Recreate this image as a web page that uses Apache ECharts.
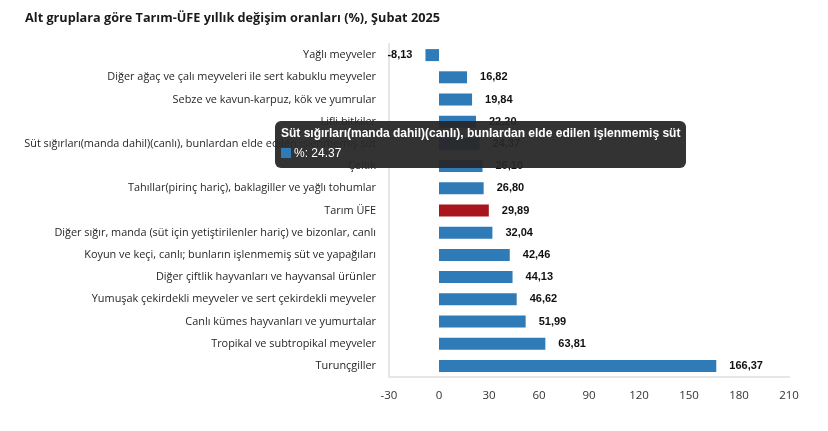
<!DOCTYPE html>
<html>
<head>
<meta charset="utf-8">
<script src="https://cdn.jsdelivr.net/npm/echarts@6/dist/echarts.min.js"></script>
<style>
  html, body { margin: 0; padding: 0; background: #fff; }
  #chart { width: 828px; height: 431px; }
</style>
</head>
<body>
<div id="chart"></div>
<script>
// categories top to bottom as they appear in the picture
const categories = [
  'Yağlı meyveler',
  'Diğer ağaç ve çalı meyveleri ile sert kabuklu meyveler',
  'Sebze ve kavun-karpuz, kök ve yumrular',
  'Lifli bitkiler',
  'Süt sığırları(manda dahil)(canlı), bunlardan elde edilen işlenmemiş süt',
  'Çeltik',
  'Tahıllar(pirinç hariç), baklagiller ve yağlı tohumlar',
  'Tarım ÜFE',
  'Diğer sığır, manda (süt için yetiştirilenler hariç) ve bizonlar, canlı',
  'Koyun ve keçi, canlı; bunların işlenmemiş süt ve yapağıları',
  'Diğer çiftlik hayvanları ve hayvansal ürünler',
  'Yumuşak çekirdekli meyveler ve sert çekirdekli meyveler',
  'Canlı kümes hayvanları ve yumurtalar',
  'Tropikal ve subtropikal meyveler',
  'Turunçgiller',
];
const values = [-8.13, 16.82, 19.84, 22.20, 24.37, 26.10, 26.80, 29.89, 32.04, 42.46, 44.13, 46.62, 51.99, 63.81, 166.37];
const highlight = 'Tarım ÜFE';
const tooltipIndex = 4;

const BLUE = '#2f7bb8';
const RED = '#a8151c';

const fmt = (v) => v.toFixed(2).replace('.', ',');

const chart = echarts.init(document.getElementById('chart'));

const option = {
  animation: false,
  title: {
    text: 'Alt gruplara göre Tarım-ÜFE yıllık değişim oranları (%), Şubat 2025',
    left: 20,
    top: 7,
    textStyle: {
      fontFamily: 'Open Sans',
      fontSize: 12.7,
      fontWeight: 'bold',
      color: '#1a1a1a',
    },
  },
  tooltip: {
    trigger: 'item',
    position: [275, 121],
    backgroundColor: 'rgba(40,40,40,0.95)',
    borderWidth: 0,
    padding: [3, 6, 4, 6],
    extraCssText: 'border-radius:6px;box-shadow:none;',
    textStyle: { color: '#fff', fontFamily: 'Liberation Sans', fontSize: 12 },
    formatter: (p) =>
      '<div style="font-weight:bold;line-height:18px">' + p.name + '</div>' +
      '<div style="line-height:22px"><span style="display:inline-block;width:10px;height:10px;background:' +
      BLUE + ';margin-right:3px;vertical-align:-1px"></span>%: ' + p.value + '</div>',
  },
  grid: {
    left: 389,
    right: 39,
    top: 44,
    bottom: 54,
    outerBoundsMode: 'none',
    containLabel: false,
  },
  xAxis: {
    type: 'value',
    min: -30,
    max: 210,
    interval: 30,
    axisLine: { show: true, lineStyle: { color: '#e6e6e6', width: 2 } },
    axisTick: { show: false },
    splitLine: { show: false },
    axisLabel: {
      margin: 13,
      fontFamily: 'Open Sans',
      fontSize: 11.5,
      color: '#333',
    },
  },
  yAxis: {
    type: 'category',
    inverse: true,
    data: categories,
    axisLine: { show: true, onZero: false, lineStyle: { color: '#e6e6e6', width: 2 } },
    axisTick: { show: false },
    axisLabel: {
      margin: 13,
      fontFamily: 'Open Sans',
      fontSize: 10.9,
      color: '#262626',
    },
  },
  series: [
    {
      name: '%',
      type: 'bar',
      barWidth: 12,
      data: values.map((v, i) => ({
        value: v,
        itemStyle: { color: categories[i] === highlight ? RED : BLUE },
        label: { position: v < 0 ? 'left' : 'right' },
      })),
      label: {
        show: true,
        distance: 13,
        fontFamily: 'Liberation Sans',
        fontSize: 11,
        fontWeight: 'bold',
        color: '#111',
        formatter: (p) => fmt(p.value),
      },
    },
  ],
};

chart.setOption(option);
chart.dispatchAction({ type: 'showTip', seriesIndex: 0, dataIndex: tooltipIndex });
</script>
</body>
</html>
